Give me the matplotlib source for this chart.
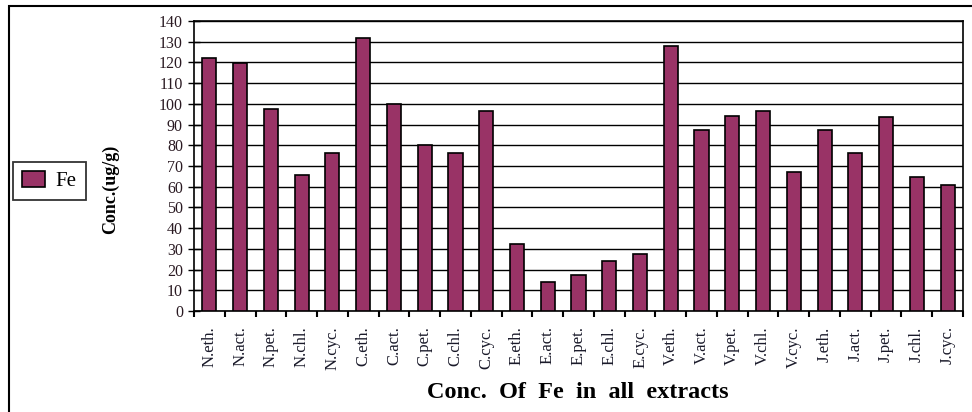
import matplotlib
matplotlib.use("Agg")
import matplotlib.pyplot as plt
from matplotlib.patches import Rectangle
import numpy as np

categories = ["N.eth.", "N.act.", "N.pet.", "N.chl.", "N.cyc.",
              "C.eth.", "C.act.", "C.pet.", "C.chl.", "C.cyc.",
              "E.eth.", "E.act.", "E.pet.", "E.chl.", "E.cyc.",
              "V.eth.", "V.act.", "V.pet.", "V.chl.", "V.cyc.",
              "J.eth.", "J.act.", "J.pet.", "J.chl.", "J.cyc."]
fe_values = [122, 119.5, 97.5, 65.5, 76.5,
             132, 100, 80, 76.5, 96.5,
             32.5, 14, 17.5, 24, 27.5,
             128, 87.5, 94, 96.5, 67,
             87.5, 76.5, 93.5, 64.5, 61]
yticks = list(range(0, 141, 10))

plt.rcParams['font.family'] = ['Liberation Serif', 'DejaVu Serif']

fig = plt.figure(figsize=(9.72, 4.12), dpi=100)
ax = fig.add_axes([194/972, 1-311/412, (963-194)/972, (311-21)/412])

x = np.arange(len(categories))
bars = ax.bar(x, fe_values, width=0.46, color="#993366", edgecolor="black",
              linewidth=1.2, zorder=3, label="Fe")

ax.set_xlim(-0.5, len(categories) - 0.5)
ax.set_ylim(0, 140)
ax.set_yticks(yticks)
ax.set_yticklabels([str(t) for t in yticks], fontsize=11.5, color="#2a1a22")
ax.yaxis.grid(True, color="black", linewidth=1.0, zorder=0)
ax.tick_params(axis='y', direction='inout', length=8, width=1, pad=4)

ax.set_xticks(x)
ax.set_xticklabels(categories, rotation=90, fontsize=12, color="#1a1a2a")
ax.tick_params(axis='x', length=0, pad=11)
ax.set_xticks(np.arange(-0.5, len(categories), 1), minor=True)
ax.tick_params(axis='x', which='minor', direction='out', length=4, width=1.5)

for s in ax.spines.values():
    s.set_linewidth(1.2)
    s.set_color("black")

ax.set_ylabel("Conc.(ug/g)", fontsize=13, fontweight="bold")
ax.yaxis.set_label_coords((119 - 194) / 769, (311 - 189) / 290)
ax.set_xlabel("Conc.  Of  Fe  in  all  extracts", fontsize=17.5,
              fontweight="bold")
ax.xaxis.set_label_coords((578 - 194) / 769, (311 - 392) / 290)
ax.xaxis.label.set_va("center")

# legend on the left
leg = fig.legend(handles=[bars], labels=["Fe"], loc="center left",
                 bbox_to_anchor=(13/972, 1-181/412), fontsize=15,
                 frameon=True, fancybox=False, edgecolor="black",
                 handlelength=1.1, handleheight=0.8, handletextpad=0.5,
                 borderpad=0.45, borderaxespad=0)
leg.get_frame().set_linewidth(1.3)

# outer border
fig.patches.append(Rectangle((9/972, -0.1), 1.2, 1 - 6/412 + 0.1,
                             transform=fig.transFigure, fill=False,
                             edgecolor="black", linewidth=1.5))

fig.savefig("out.png", dpi=100)
